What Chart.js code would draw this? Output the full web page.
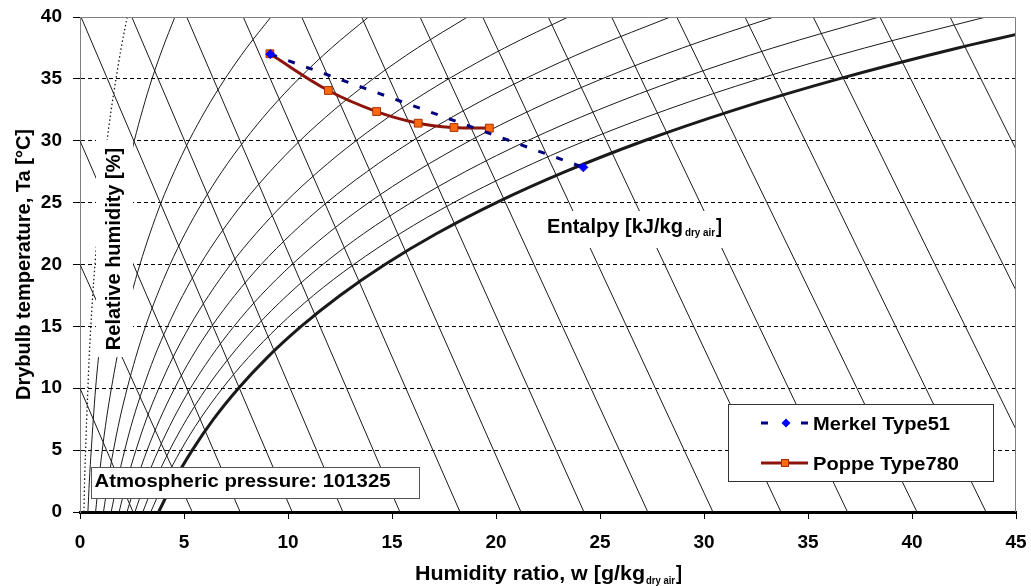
<!DOCTYPE html>
<html>
<head>
<meta charset="utf-8">
<title>Psychrometric chart - Merkel vs Poppe</title>
<script src="https://cdn.jsdelivr.net/npm/chart.js@4/dist/chart.umd.min.js"></script>
<style>
  html, body { margin: 0; padding: 0; background: #fff; }
  #wrap { width: 1031px; height: 586px; }
</style>
</head>
<body>
<div id="wrap"><canvas id="chart" width="1031" height="586"></canvas></div>
<script>
// temperatures (°C) where the relative humidity curves are sampled
const tempSteps = [0, 2.5, 5, 7.5, 10, 12.5, 15, 17.5, 20, 22.5, 25, 27.5, 30, 32.5, 35, 37.5, 40];

// humidity ratio w [g/kg] along each relative humidity curve (one value per tempSteps entry)
const rh5   = [0.19, 0.22, 0.27, 0.32, 0.38, 0.44, 0.52, 0.61, 0.72, 0.84, 0.97, 1.13, 1.30, 1.50, 1.73, 1.98, 2.27];
const rh10  = [0.38, 0.45, 0.54, 0.64, 0.75, 0.89, 1.05, 1.23, 1.44, 1.67, 1.95, 2.26, 2.61, 3.01, 3.46, 3.98, 4.56];
const rh20  = [0.75, 0.90, 1.07, 1.27, 1.51, 1.78, 2.10, 2.46, 2.88, 3.36, 3.90, 4.53, 5.24, 6.05, 6.97, 8.01, 9.18];
const rh30  = [1.13, 1.35, 1.61, 1.91, 2.27, 2.68, 3.15, 3.70, 4.33, 5.05, 5.88, 6.82, 7.90, 9.12, 10.51, 12.09, 13.87];
const rh40  = [1.50, 1.80, 2.15, 2.55, 3.03, 3.57, 4.21, 4.94, 5.78, 6.75, 7.86, 9.13, 10.57, 12.22, 14.09, 16.22, 18.63];
const rh50  = [1.88, 2.25, 2.69, 3.19, 3.79, 4.47, 5.27, 6.19, 7.24, 8.46, 9.85, 11.45, 13.27, 15.35, 17.72, 20.41, 23.47];
const rh60  = [2.26, 2.71, 3.23, 3.84, 4.55, 5.37, 6.33, 7.44, 8.71, 10.18, 11.86, 13.79, 15.99, 18.51, 21.38, 24.66, 28.38];
const rh70  = [2.64, 3.16, 3.77, 4.48, 5.31, 6.28, 7.40, 8.69, 10.19, 11.91, 13.88, 16.15, 18.74, 21.71, 25.09, 28.96, 33.36];
const rh80  = [3.02, 3.61, 4.31, 5.13, 6.08, 7.19, 8.47, 9.96, 11.67, 13.64, 15.92, 18.52, 21.51, 24.93, 28.84, 33.31, 38.42];
const rh90  = [3.40, 4.07, 4.85, 5.77, 6.85, 8.10, 9.55, 11.22, 13.16, 15.39, 17.96, 20.92, 24.30, 28.19, 32.64, 37.73, 43.56];
const rh100 = [3.78, 4.52, 5.40, 6.42, 7.62, 9.01, 10.63, 12.50, 14.66, 17.15, 20.02, 23.33, 27.12, 31.48, 36.48, 42.21, 48.78];

// enthalpy lines, straight: start point (w, T) -> end point (w, T)
const enthalpyStartW = [0, 0, 0, 0.05, 2.49, 5.13, 7.85, 10.66, 13.54, 16.35, 19.36, 22.51, 25.56, 28.69, 31.97, 35.25, 38.46, 41.83];
const enthalpyStartT = [10, 20, 30, 40, 40, 40, 40, 40, 40, 40, 40, 40, 40, 40, 40, 40, 40, 40];
const enthalpyEndW   = [2.55, 5.4, 7.7, 10.2, 12.64, 15.38, 18.27, 21.2, 24.23, 27.3, 30.43, 33.7, 36.9, 40.24, 43.56, 46.95, 50.3, 53.7];
const enthalpyEndT   = [0, 0, 0, 0, 0, 0, 0, 0, 0, 0, 0, 0, 0, 0, 0, 0, 0, 0];

// measured process lines
const merkelW = [9.15, 24.2];
const merkelT = [37.0, 27.85];
const poppeW  = [9.13, 11.94, 14.26, 16.26, 17.98, 19.68];
const poppeT  = [37.03, 34.06, 32.36, 31.42, 31.07, 31.02];

// axis ticks
const xTicks = [0, 5, 10, 15, 20, 25, 30, 35, 40, 45];
const yTicks = [0, 5, 10, 15, 20, 25, 30, 35, 40];

const FONT = "'Liberation Sans', Arial, sans-serif";
Chart.defaults.font.family = FONT;
Chart.defaults.color = '#000';

function pts(ws, ts) {
  return ws.map((w, i) => ({ x: w, y: ts[i] }));
}

function curve(ws, width, dash) {
  return {
    data: pts(ws, tempSteps),
    borderColor: '#1a1a1a',
    borderWidth: width,
    borderDash: dash || [],
    pointRadius: 0,
    showLine: true,
    cubicInterpolationMode: 'monotone',
    clip: 0
  };
}

const datasets = [
  {
    label: 'Merkel Type51',
    data: pts(merkelW, merkelT),
    showLine: true,
    borderColor: '#000080',
    borderWidth: 3,
    borderDash: [7, 12],
    pointStyle: 'rectRot',
    pointRadius: 4.5,
    pointBackgroundColor: '#0000ff',
    pointBorderColor: '#0000ff',
    pointBorderWidth: 1
  },
  {
    label: 'Poppe Type780',
    data: pts(poppeW, poppeT),
    showLine: true,
    borderColor: '#8c140a',
    borderWidth: 3,
    tension: 0.4,
    pointStyle: 'rect',
    pointRadius: 5.5,
    pointBackgroundColor: '#ff6a10',
    pointBorderColor: '#a83000',
    pointBorderWidth: 1
  },
  curve(rh100, 3),
  curve(rh5, 1.3, [1.5, 2.5]),
  curve(rh10, 1), curve(rh20, 1), curve(rh30, 1), curve(rh40, 1), curve(rh50, 1),
  curve(rh60, 1), curve(rh70, 1), curve(rh80, 1), curve(rh90, 1)
];

enthalpyStartW.forEach((w, i) => {
  datasets.push({
    data: [{ x: w, y: enthalpyStartT[i] }, { x: enthalpyEndW[i], y: enthalpyEndT[i] }],
    showLine: true,
    borderColor: '#1a1a1a',
    borderWidth: 1,
    pointRadius: 0,
    clip: 0
  });
});

// draws text so that it spans the given width (the picture is a little stretched)
function fitText(ctx, text, x, y, width) {
  const w = ctx.measureText(text).width;
  ctx.save();
  ctx.translate(x, y);
  ctx.scale(width / w, 1);
  ctx.textAlign = 'left';
  ctx.fillText(text, 0, 0);
  ctx.restore();
}

const overlay = {
  id: 'overlay',
  afterDatasetsDraw(chart) {
    const ctx = chart.ctx;
    const area = chart.chartArea;
    ctx.save();
    ctx.fillStyle = '#000';
    ctx.textBaseline = 'alphabetic';

    // frame top and right
    ctx.strokeStyle = '#808080';
    ctx.lineWidth = 1;
    ctx.beginPath();
    ctx.moveTo(area.left, area.top + 0.5);
    ctx.lineTo(area.right - 0.5, area.top + 0.5);
    ctx.lineTo(area.right - 0.5, area.bottom);
    ctx.stroke();

    // relative humidity label
    ctx.fillStyle = '#fff';
    ctx.fillRect(96, 140, 37, 217);
    ctx.fillStyle = '#000';
    ctx.save();
    ctx.translate(120, 249);
    ctx.rotate(-Math.PI / 2);
    ctx.font = 'bold 20px ' + FONT;
    ctx.textAlign = 'center';
    ctx.fillText('Relative humidity [%]', 0, 0);
    ctx.restore();

    // enthalpy label
    ctx.fillStyle = '#fff';
    ctx.fillRect(543, 211, 183, 37);
    ctx.fillStyle = '#000';
    ctx.font = 'bold 20px ' + FONT;
    fitText(ctx, 'Entalpy [kJ/kg', 547, 233, 136);
    ctx.font = 'bold 11px ' + FONT;
    fitText(ctx, 'dry air', 685, 236, 30);
    ctx.font = 'bold 20px ' + FONT;
    fitText(ctx, ']', 716, 233, 6);

    // atmospheric pressure box
    ctx.fillStyle = '#fff';
    ctx.fillRect(91.5, 467.5, 328, 31);
    ctx.strokeStyle = '#555';
    ctx.strokeRect(91.5, 467.5, 328, 31);
    ctx.fillStyle = '#000';
    ctx.font = 'bold 19px ' + FONT;
    fitText(ctx, 'Atmospheric pressure: 101325', 94.5, 486.5, 296);

    // legend
    ctx.fillStyle = '#fff';
    ctx.fillRect(728.5, 404.5, 265, 77);
    ctx.strokeStyle = '#333';
    ctx.strokeRect(728.5, 404.5, 265, 77);
    ctx.lineWidth = 3;
    ctx.strokeStyle = '#000080';
    ctx.beginPath();
    ctx.moveTo(761, 423); ctx.lineTo(768, 423);
    ctx.moveTo(801, 423); ctx.lineTo(808, 423);
    ctx.stroke();
    ctx.fillStyle = '#0000ff';
    ctx.beginPath();
    ctx.moveTo(786, 418.5); ctx.lineTo(790.5, 423); ctx.lineTo(786, 427.5); ctx.lineTo(781.5, 423);
    ctx.closePath();
    ctx.fill();
    ctx.strokeStyle = '#8c140a';
    ctx.beginPath();
    ctx.moveTo(761, 463); ctx.lineTo(808, 463);
    ctx.stroke();
    ctx.fillStyle = '#ff6a10';
    ctx.fillRect(781.5, 459.5, 7, 7);
    ctx.lineWidth = 1;
    ctx.strokeStyle = '#a83000';
    ctx.strokeRect(781.5, 459.5, 7, 7);
    ctx.fillStyle = '#000';
    ctx.font = 'bold 19px ' + FONT;
    fitText(ctx, 'Merkel Type51', 813, 429.5, 137);
    fitText(ctx, 'Poppe Type780', 813, 470, 146);

    // x axis title with subscript
    ctx.font = 'bold 20px ' + FONT;
    fitText(ctx, 'Humidity ratio, w [g/kg', 415, 580, 230);
    ctx.font = 'bold 11px ' + FONT;
    fitText(ctx, 'dry air', 646, 584, 29);
    ctx.font = 'bold 20px ' + FONT;
    fitText(ctx, ']', 676, 580, 6);

    ctx.restore();
  }
};

new Chart(document.getElementById('chart'), {
  type: 'scatter',
  data: { datasets: datasets },
  options: {
    responsive: false,
    animation: false,
    events: [],
    layout: { padding: { top: 17, right: 15, left: 0, bottom: 0 } },
    plugins: {
      legend: { display: false },
      tooltip: { enabled: false }
    },
    scales: {
      x: {
        type: 'linear',
        position: 'bottom',
        min: 0,
        max: 45,
        afterBuildTicks: (s) => { s.ticks = xTicks.map(v => ({ value: v })); },
        afterFit: (s) => {
          s.height = 74;
          s.paddingLeft = 0;
          s.paddingRight = 0;
        },
        ticks: {
          font: { size: 19, weight: 'bold' },
          color: '#000',
          padding: 12,
          maxRotation: 0,
          autoSkip: false
        },
        grid: {
          drawOnChartArea: false,
          drawTicks: true,
          tickLength: 7,
          tickColor: '#000',
          color: '#000'
        },
        border: { color: '#000', width: 3 }
      },
      y: {
        type: 'linear',
        min: 0,
        max: 40,
        afterBuildTicks: (s) => { s.ticks = yTicks.map(v => ({ value: v })); },
        afterFit: (s) => {
          s.width = 80;
          s.paddingTop = 0;
          s.paddingBottom = 0;
        },
        ticks: {
          font: { size: 19, weight: 'bold' },
          color: '#000',
          padding: 11
        },
        grid: {
          color: (c) => (c.tick && c.tick.value > 0 && c.tick.value < 40) ? '#000' : 'rgba(0,0,0,0)',
          lineWidth: 1,
          tickLength: 7,
          tickColor: '#000',
          tickBorderDash: []
        },
        border: { color: '#808080', width: 1, dash: [4, 3] },
        title: {
          display: true,
          text: 'Drybulb temperature, Ta [°C]',
          font: { size: 20, weight: 'bold' },
          color: '#000',
          padding: { top: 12, bottom: 0 }
        }
      }
    }
  },
  plugins: [overlay]
});
</script>
</body>
</html>
